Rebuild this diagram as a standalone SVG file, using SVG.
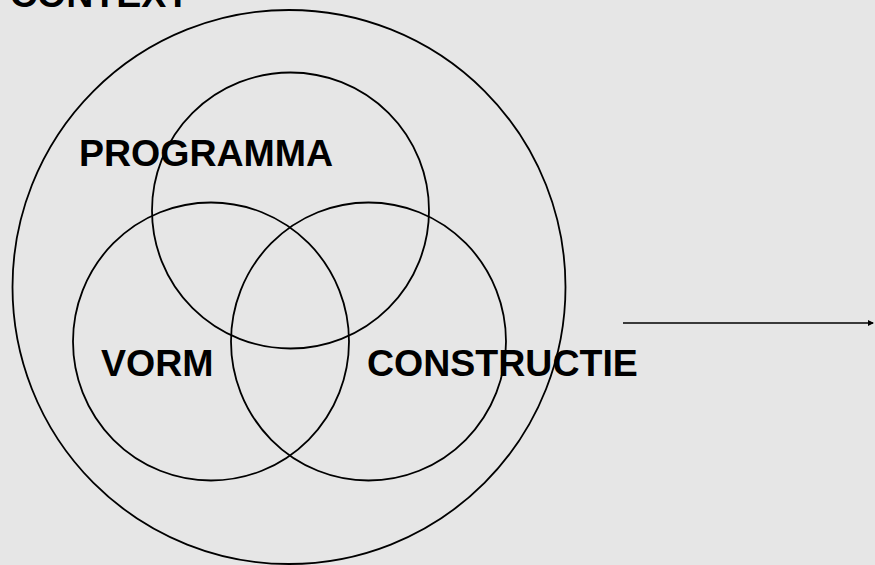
<svg xmlns="http://www.w3.org/2000/svg" width="875" height="565" viewBox="0 0 875 565">
  <style>
    .ring { fill: none; stroke: #000; stroke-width: 1.8; }
    .lbl { font-family: "Liberation Sans", Arial, sans-serif; font-weight: bold; font-size: 37.5px; fill: #000; }
    .conn { stroke: #000; stroke-width: 1.6; fill: none; }
  </style>
  <defs>
    <marker id="arrow" markerWidth="6" markerHeight="6" refX="5" refY="3" orient="auto" markerUnits="userSpaceOnUse">
      <path d="M0,0 L6,3 L0,6 Z" fill="#000"/>
    </marker>
  </defs>
  <rect x="0" y="0" width="875" height="565" fill="#e6e6e6"/>
  <g id="context">
    <ellipse class="ring" cx="289" cy="287" rx="276.5" ry="277"/>
    <text class="lbl" x="10" y="7">CONTEXT</text>
  </g>
  <g id="programma">
    <ellipse class="ring" cx="290.5" cy="210.5" rx="138.5" ry="138"/>
    <text class="lbl" x="79" y="166">PROGRAMMA</text>
  </g>
  <g id="vorm">
    <ellipse class="ring" cx="211" cy="341.5" rx="138" ry="139"/>
    <text class="lbl" x="101" y="376">VORM</text>
  </g>
  <g id="constructie">
    <ellipse class="ring" cx="368.5" cy="341.5" rx="137.5" ry="139"/>
    <text class="lbl" x="367" y="376">CONSTRUCTIE</text>
  </g>
  <g id="connectors">
    <line class="conn" x1="623" y1="323" x2="873" y2="323" marker-end="url(#arrow)"/>
  </g>
</svg>
